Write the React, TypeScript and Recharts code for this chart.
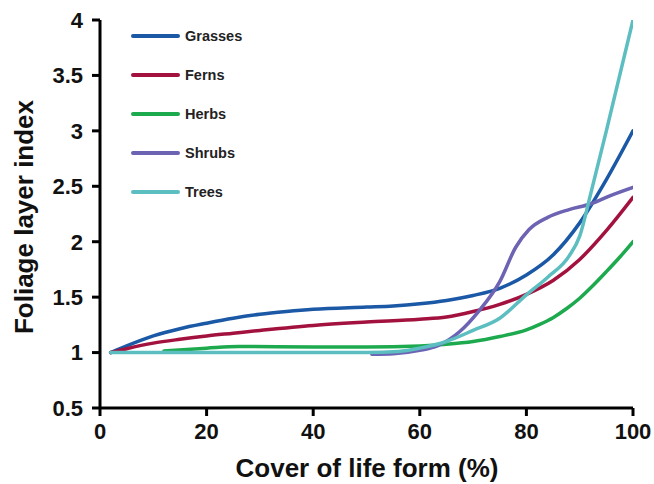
import React from 'react';
import { LineChart, Line, XAxis, YAxis, Legend, Label } from 'recharts';

const xTicks = [0, 20, 40, 60, 80, 100];
const yTicks = [0.5, 1, 1.5, 2, 2.5, 3, 3.5, 4];

const grasses = [
  { x: 2, y: 1.0 }, { x: 5, y: 1.06 }, { x: 10, y: 1.15 }, { x: 15, y: 1.215 },
  { x: 20, y: 1.265 }, { x: 25, y: 1.31 }, { x: 30, y: 1.345 }, { x: 35, y: 1.37 },
  { x: 40, y: 1.39 }, { x: 50, y: 1.41 }, { x: 55, y: 1.42 }, { x: 60, y: 1.44 },
  { x: 65, y: 1.47 }, { x: 70, y: 1.515 }, { x: 75, y: 1.58 }, { x: 80, y: 1.7 },
  { x: 85, y: 1.88 }, { x: 90, y: 2.17 }, { x: 95, y: 2.56 }, { x: 100, y: 3.0 },
];

const ferns = [
  { x: 2, y: 1.0 }, { x: 5, y: 1.035 }, { x: 10, y: 1.085 }, { x: 15, y: 1.12 },
  { x: 20, y: 1.15 }, { x: 25, y: 1.175 }, { x: 30, y: 1.2 }, { x: 40, y: 1.245 },
  { x: 50, y: 1.275 }, { x: 60, y: 1.3 }, { x: 65, y: 1.32 }, { x: 70, y: 1.37 },
  { x: 75, y: 1.435 }, { x: 80, y: 1.525 }, { x: 85, y: 1.65 }, { x: 90, y: 1.84 },
  { x: 95, y: 2.1 }, { x: 100, y: 2.4 },
];

const herbs = [
  { x: 12, y: 1.015 }, { x: 20, y: 1.04 }, { x: 26, y: 1.055 }, { x: 40, y: 1.05 },
  { x: 50, y: 1.05 }, { x: 60, y: 1.06 }, { x: 65, y: 1.075 }, { x: 70, y: 1.1 },
  { x: 75, y: 1.145 }, { x: 80, y: 1.205 }, { x: 82.5, y: 1.255 }, { x: 85, y: 1.315 },
  { x: 87.5, y: 1.395 }, { x: 90, y: 1.49 }, { x: 92.5, y: 1.605 }, { x: 95, y: 1.73 },
  { x: 97.5, y: 1.86 }, { x: 100, y: 2.0 },
];

const shrubs = [
  { x: 51, y: 0.985 }, { x: 55, y: 0.99 }, { x: 60, y: 1.02 }, { x: 63.5, y: 1.065 },
  { x: 67.5, y: 1.19 }, { x: 71, y: 1.37 }, { x: 75, y: 1.64 }, { x: 78, y: 1.95 },
  { x: 80.5, y: 2.11 }, { x: 84, y: 2.22 }, { x: 88, y: 2.29 }, { x: 92, y: 2.34 },
  { x: 96, y: 2.42 }, { x: 100, y: 2.49 },
];

const trees = [
  { x: 2, y: 1.0 }, { x: 10, y: 1.0 }, { x: 20, y: 1.0 }, { x: 30, y: 1.0 },
  { x: 40, y: 1.0 }, { x: 50, y: 1.0 }, { x: 56, y: 1.01 }, { x: 60, y: 1.04 },
  { x: 65, y: 1.1 }, { x: 70, y: 1.2 }, { x: 75, y: 1.31 }, { x: 80, y: 1.52 },
  { x: 84, y: 1.68 }, { x: 88, y: 1.87 }, { x: 90, y: 2.05 }, { x: 92, y: 2.42 },
  { x: 95, y: 3.0 }, { x: 100, y: 4.0 },
];

const seriesNames = ['Grasses', 'Ferns', 'Herbs', 'Shrubs', 'Trees'];
const seriesColors = ['#1b58a5', '#a3123f', '#1daa4f', '#6c63b3', '#5cbec0'];
const seriesData = [grasses, ferns, herbs, shrubs, trees];

const FONT = '"Liberation Sans", Arial, Helvetica, sans-serif';

function LegendBox() {
  return (
    <div style={{ fontFamily: FONT }}>
      {seriesNames.map((n, i) => (
        <div key={n} style={{ display: 'flex', alignItems: 'center', height: 39 }}>
          <svg width={52} height={8} style={{ display: 'block' }}>
            <line x1={3} y1={4} x2={48} y2={4} stroke={seriesColors[i]} strokeWidth={4} strokeLinecap="round" />
          </svg>
          <span style={{ marginLeft: 3, fontSize: 14.5, fontWeight: 'bold', color: '#222' }}>{n}</span>
        </div>
      ))}
    </div>
  );
}

export default function App() {
  return (
    <div style={{ position: 'absolute', left: 0, top: 0, background: '#fff' }}>
      <LineChart width={654} height={484} margin={{ top: 20, right: 21, bottom: 0, left: 0 }}>
        <XAxis
          type="number"
          dataKey="x"
          domain={[0, 100]}
          ticks={xTicks}
          height={76}
          axisLine={{ stroke: '#000', strokeWidth: 3 }}
          tickLine={{ stroke: '#000', strokeWidth: 3 }}
          tickSize={8}
          tickMargin={7}
          tick={{ fill: '#111', fontSize: 22, fontWeight: 'bold', fontFamily: FONT }}
          allowDataOverflow
        >
          <Label
            content={() => (
              <text x={367} y={477} textAnchor="middle" fontSize={26} fontWeight="bold" fontFamily={FONT} fill="#111">
                Cover of life form (%)
              </text>
            )}
          />
        </XAxis>
        <YAxis
          type="number"
          domain={[0.5, 4]}
          ticks={yTicks}
          width={100}
          axisLine={{ stroke: '#000', strokeWidth: 3 }}
          tickLine={{ stroke: '#000', strokeWidth: 3 }}
          tickSize={8}
          tickMargin={9}
          tick={{ fill: '#111', fontSize: 22, fontWeight: 'bold', fontFamily: FONT }}
          allowDataOverflow
        >
          <Label
            content={() => (
              <text x={33} y={217} transform="rotate(-90 33 217)" textAnchor="middle" fontSize={26} fontWeight="bold" fontFamily={FONT} fill="#111">
                Foliage layer index
              </text>
            )}
          />
        </YAxis>
        <Legend
          layout="vertical"
          align="center"
          verticalAlign="middle"
          content={() => <LegendBox />}
          wrapperStyle={{ position: 'absolute', left: 130, top: 16, width: 'auto', height: 'auto' }}
        />
        {seriesNames.map((n, i) => (
          <Line
            key={n}
            name={n}
            data={seriesData[i]}
            dataKey="y"
            type="monotone"
            stroke={seriesColors[i]}
            strokeWidth={3.5}
            strokeLinecap="round"
            dot={false}
            activeDot={false}
            isAnimationActive={false}
          />
        ))}
      </LineChart>
    </div>
  );
}
